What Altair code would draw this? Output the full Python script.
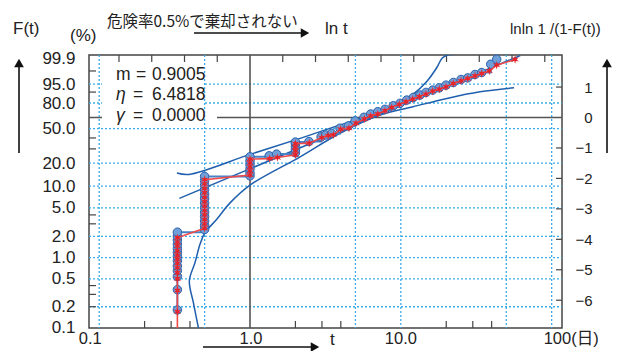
import altair as alt
import numpy as np
import pandas as pd

# ---------------- data ----------------
# blue circles : time t (days) and F(t) (%)
c1_t = [0.33] * 13
c1_F = [0.18, 0.35, 0.54, 0.65, 0.76, 0.90, 1.03, 1.18, 1.34, 1.54, 1.77, 2.01, 2.29]
c2_t = [0.50] * 13
c2_F = [2.50, 2.84, 3.29, 3.80, 4.38, 5.06, 5.84, 6.74, 7.76, 8.94, 10.27, 11.80, 13.45]
c3_t = [1.0] * 6 + [1.34, 1.50] + [2.0] * 5
c3_F = [13.7, 15.04, 16.96, 19.09, 21.44, 24.04, 24.73, 25.95, 26.9, 29.5, 32.0, 34.5, 36.0]
c4_t = [2.46, 2.96, 3.18, 3.48, 3.95, 4.49, 4.97, 5.70, 6.31, 7.03, 7.85, 8.91, 9.87,
        10.94, 12.10, 13.40, 14.69, 16.27, 17.99, 19.93, 22.28, 25.06, 27.76, 31.03,
        34.37, 39.45, 43.21]
c4_F = [36.5, 41.07, 43.13, 44.73, 50.47, 53.11, 59.03, 63.45, 67.41, 70.15, 72.94,
        77.03, 79.61, 82.99, 85.56, 87.58, 89.76, 91.43, 92.92, 94.45, 95.75, 96.93,
        97.46, 98.35, 98.75, 99.68, 99.885]

# red stars : time t (days) and F(t) (%)
r1_t = [0.33] * 12
r1_F = [0.17, 0.34, 0.50, 0.61, 0.72, 0.83, 0.95, 1.08, 1.24, 1.46, 1.66, 1.91]
r2_t = [0.50] * 12
r2_F = [2.6, 3.0, 3.45, 4.0, 4.6, 5.3, 6.1, 7.0, 8.1, 9.3, 10.7, 12.2]
r3_t = [1.0] * 5 + [1.35, 1.52] + [2.0] * 4
r3_F = [14.0, 15.8, 17.8, 20.0, 22.5, 22.8, 23.6, 25.5, 28.5, 31.5, 34.5]
r4_t = [2.47, 2.99, 3.30, 3.57, 3.99, 4.53, 5.04, 5.73, 6.31, 7.03, 7.85, 8.70, 9.77,
        10.82, 11.99, 13.26, 14.69, 16.27, 17.99, 19.93, 22.28, 25.06, 27.76, 31.03,
        34.37, 38.6, 43.2, 57.2]
r4_F = [34.97, 40.36, 42.40, 43.13, 49.33, 50.47, 56.26, 61.41, 65.02, 67.41, 71.32,
        75.22, 78.54, 81.29, 83.97, 86.11, 88.41, 90.71, 92.09, 93.52, 95.30, 96.42,
        97.27, 98.02, 98.56, 99.01, 99.62, 99.88]
red_start_t = [0.33]
red_start_F = [0.09]

# fitted Weibull line (m = 0.9005, eta = 6.4818) end points
fit_t = [0.34, 62.0]
fit_F = [6.79, 99.952]

# confidence band curves
up_t = [0.328, 0.394, 1.0, 2.15, 3.95, 7.28, 9.58, 11.86, 14.91, 17.37, 18.75, 20.2, 23.6]
up_F = [14.9, 14.3, 25.74, 39.56, 54.28, 69.79, 79.93, 87.58, 96.30, 99.45, 99.908, 99.955, 99.965]
lo_t = [0.455, 0.421, 0.396, 0.432, 0.466, 0.503, 0.60, 0.737, 1.0, 2.15, 3.95, 7.28,
        12.05, 20.2, 33.5, 56.3]
lo_F = [0.10, 0.23, 0.466, 0.85, 1.54, 2.25, 3.45, 5.88, 10.3, 24.04, 44.94, 66.21,
        75.91, 84.62, 90.20, 92.92]

# axes / grid
grid_t = [0.1, 0.5, 5, 10, 50, 100]
grid_F = [0.2, 0.5, 1, 2, 5, 10, 20, 50, 80, 95]
label_F = [0.1, 0.2, 0.5, 1, 2, 5, 10, 20, 50, 80, 95, 99.9]
left_tick_F = [0.2, 0.3, 0.4, 3, 4, 30, 40, 90, 99]
bottom_tick_t = [0.2, 0.3, 0.4, 2, 3, 4, 20, 30, 40]
top_tick_lnt = [-2.0, -1.5, -1.0, -0.5, 0.5, 1.0, 1.5, 2.0, 2.5, 3.0, 3.5, 4.0, 4.5]
top_labels = [-2, -1, 0, 1, 2, 3, 4]
right_labels = [-6, -5, -4, -3, -2, -1, 0, 1]
right_tick_y = [-6, -5, -4, -3, -2, -1, 1]
bottom_labels_t = [0.1, 1, 10, 100]
bottom_labels_s = ["0.1", "1.0", "10.0", "100(日)"]
stats = [("m", "0.9005"), ("η", "6.4818"), ("γ", "0.0000")]

# ---------------- styling ----------------
W, H = 473, 273
XDOM = [-2.458, 4.763]
YDOM = [-6.912, 2.052]
FONT = "Liberation Sans, Noto Sans CJK JP"
JFONT = "Noto Sans CJK JP"
TXT = "#222222"
FRAME = "#444444"
GRID = "#3aaee4"
BLUE = "#1f5fad"
STAR = "M0,-1L0.19,-0.33L0.87,-0.5L0.38,0L0.87,0.5L0.19,0.33L0,1L-0.19,0.33L-0.87,0.5L-0.38,0L-0.87,-0.5L-0.19,-0.33Z"


def ll(F):
    return np.log(-np.log(1.0 - np.asarray(F, float) / 100.0))


def lt(t):
    return np.log(np.asarray(t, float))


sx = alt.Scale(domain=XDOM, nice=False, zero=False)
sy = alt.Scale(domain=YDOM, nice=False, zero=False)


def ex(axis=None):
    return alt.X("x:Q", scale=sx, axis=axis)


def ey(axis=None):
    return alt.Y("y:Q", scale=sy, axis=axis)


def df(t, F):
    return pd.DataFrame({"x": lt(t), "y": ll(F), "i": np.arange(len(t))})


one = pd.DataFrame({"a": [0]})
layers = []

# horizontal dotted grid + left axis
left_axis = alt.Axis(orient="left", values=[float(v) for v in ll(label_F)],
                     labelExpr="format(100*(1-exp(-exp(datum.value))),'.1f')",
                     ticks=False, tickSize=0, domain=False, grid=False, title=None,
                     labelFontSize=17, labelPadding=14, labelFont=FONT, labelColor=TXT,
                     labelOverlap=False, labelBound=False, labelFlush=False)
layers.append(alt.Chart(pd.DataFrame({"y": ll(grid_F)})).mark_rule(
    color=GRID, strokeDash=[2, 2], strokeWidth=1.3).encode(
    y=ey(left_axis), x=alt.value(0), x2=alt.value(W)))

# horizontal solid line at lnln = 0
layers.append(alt.Chart(pd.DataFrame({"y": [0.0]})).mark_rule(
    color="#555555", strokeWidth=1.6).encode(y=ey(), x=alt.value(0), x2=alt.value(W)))

# white boxes behind the parameter text
layers.append(alt.Chart(one).mark_rect(color="white").encode(
    x=alt.value(13), x2=alt.value(114), y=alt.value(1), y2=alt.value(69)))
layers.append(alt.Chart(one).mark_rect(color="white").encode(
    x=alt.value(18), x2=alt.value(128), y=alt.value(56), y2=alt.value(69)))

# vertical dotted grid + top axis (ln t)
top_axis = alt.Axis(orient="top", values=top_labels, format="d", ticks=False, tickSize=0,
                    domain=False, grid=False, title=None, labelFontSize=15, labelPadding=4,
                    labelFont=FONT, labelColor=TXT, labelOverlap=False, labelFlush=False)
layers.append(alt.Chart(pd.DataFrame({"x": lt(grid_t)})).mark_rule(
    color=GRID, strokeDash=[2, 2], strokeWidth=1.3).encode(
    x=ex(top_axis), y=alt.value(0), y2=alt.value(H)))

# vertical solid line at t = 1
layers.append(alt.Chart(pd.DataFrame({"x": [0.0]})).mark_rule(
    color="#555555", strokeWidth=1.6).encode(x=ex(), y=alt.value(0), y2=alt.value(H)))

# inward ticks
layers.append(alt.Chart(pd.DataFrame({"x": top_tick_lnt})).mark_rule(
    color=FRAME, strokeWidth=1.2).encode(x=ex(), y=alt.value(0), y2=alt.value(7)))
layers.append(alt.Chart(pd.DataFrame({"x": lt(bottom_tick_t)})).mark_rule(
    color=FRAME, strokeWidth=1.2).encode(x=ex(), y=alt.value(H - 7), y2=alt.value(H)))
layers.append(alt.Chart(pd.DataFrame({"y": ll(left_tick_F)})).mark_rule(
    color=FRAME, strokeWidth=1.2).encode(y=ey(), x=alt.value(0), x2=alt.value(7)))
right_axis = alt.Axis(orient="right", values=right_labels, format="d", ticks=False, tickSize=0,
                      domain=False, grid=False, title=None, labelFontSize=15, labelPadding=30,
                      labelAlign="right", labelFont=FONT, labelColor=TXT, labelOverlap=False,
                      labelFlush=False)
layers.append(alt.Chart(pd.DataFrame({"y": right_tick_y})).mark_rule(
    color=FRAME, strokeWidth=1.2).encode(y=ey(right_axis), x=alt.value(W - 6), x2=alt.value(W)))

# fitted line and confidence bands
layers.append(alt.Chart(df(fit_t, fit_F)).mark_line(color=BLUE, strokeWidth=1.5, clip=True).encode(
    x=ex(), y=ey(), order="i:Q"))
layers.append(alt.Chart(df(up_t, up_F)).mark_line(
    color=BLUE, strokeWidth=1.5, clip=True, interpolate="catmull-rom").encode(
    x=ex(), y=ey(), order="i:Q"))
layers.append(alt.Chart(df(lo_t, lo_F)).mark_line(
    color=BLUE, strokeWidth=1.5, clip=True, interpolate="catmull-rom").encode(
    x=ex(), y=ey(), order="i:Q"))

# blue circles with step line
circ = df(c1_t + c2_t + c3_t + c4_t, c1_F + c2_F + c3_F + c4_F)
layers.append(alt.Chart(circ).mark_line(color="#4a82c6", strokeWidth=2, interpolate="step-after",
                                        clip=True).encode(x=ex(), y=ey(), order="i:Q"))
layers.append(alt.Chart(circ).mark_point(shape="circle", filled=True, size=72, fill="#6f9fd8",
                                         stroke="#2a62ad", strokeWidth=1, opacity=1).encode(
    x=ex(), y=ey()))

# red stars with line
red = df(red_start_t + r1_t + r2_t + r3_t + r4_t, red_start_F + r1_F + r2_F + r3_F + r4_F)
layers.append(alt.Chart(red).mark_line(color="#ee4a4a", strokeWidth=1.6, clip=True).encode(
    x=ex(), y=ey(), order="i:Q"))
layers.append(alt.Chart(red.iloc[1:]).mark_point(shape=STAR, filled=True, size=75, color="#e8242b",
                                                 opacity=1).encode(x=ex(), y=ey()))

# parameter text
for k, (sym, val) in enumerate(stats):
    yb = [25, 45, 66][k]
    layers.append(alt.Chart(one).mark_text(
        text=sym, font=FONT, fontSize=17.5, color=TXT, align="left", baseline="alphabetic",
        fontStyle="normal" if sym == "m" else "italic").encode(
        x=alt.value(27), y=alt.value(yb)))
    layers.append(alt.Chart(one).mark_text(
        text="=", font=FONT, fontSize=17.5, color=TXT, align="left", baseline="alphabetic").encode(
        x=alt.value(47 if sym == "m" else 44), y=alt.value(yb)))
    layers.append(alt.Chart(one).mark_text(
        text=val, font=FONT, fontSize=17.5, color=TXT, align="left", baseline="alphabetic").encode(
        x=alt.value(63), y=alt.value(yb)))

# bottom axis labels (t)
b_dx = [-9, 1, 0, -8]
b_align = ["center", "center", "center", "left"]
for t, s, dx, al in zip(bottom_labels_t, bottom_labels_s, b_dx, b_align):
    layers.append(alt.Chart(pd.DataFrame({"x": lt([t])})).mark_text(
        text=s, font=FONT, fontSize=16.5, color=TXT, align=al, baseline="middle", dx=dx).encode(
        x=ex(), y=alt.value(284)))


# outer titles and arrows
def txt(s, x, y, size=17, font=FONT, align="left"):
    return alt.Chart(one).mark_text(text=s, font=font, fontSize=size, color=TXT, align=align,
                                    baseline="middle").encode(x=alt.value(x), y=alt.value(y))


layers += [
    txt("危険率0.5%で棄却されない", 18, -33, 15.5, JFONT),
    txt("F(t)", -76, -26.5, 17),
    txt("(%)", -19, -19.5, 17),
    txt("ln t", 236, -26, 17),
    txt("lnln 1 /(1-F(t))", 421, -26, 15),
    txt("t", 241, 285, 17),
]


def hline(x1, x2, y):
    return alt.Chart(one).mark_rule(color="#111111", strokeWidth=1.6).encode(
        x=alt.value(x1), x2=alt.value(x2), y=alt.value(y))


def vline(x, y1, y2):
    return alt.Chart(one).mark_rule(color="#111111", strokeWidth=1.6).encode(
        x=alt.value(x), y=alt.value(y1), y2=alt.value(y2))


def head(x, y, shape):
    return alt.Chart(one).mark_point(shape=shape, filled=True, size=95, color="#111111",
                                     opacity=1).encode(x=alt.value(x), y=alt.value(y))


layers += [
    hline(105, 212, -22), head(216, -22, "triangle-right"),
    hline(114, 222, 292), head(226, 292, "triangle-right"),
    vline(-70, 12, 98), head(-70, 8, "triangle-up"),
    vline(518, 12, 98), head(518, 8, "triangle-up"),
]

chart = alt.layer(*layers).resolve_scale(y="independent").properties(
    width=W, height=H,
    padding={"left": 81, "top": 47, "right": 50, "bottom": 23},
    autosize=alt.AutoSizeParams(type="none"),
).configure_view(stroke=FRAME, strokeWidth=1.5)

chart.save("out.html", embed_options={"renderer": "svg", "actions": False})
